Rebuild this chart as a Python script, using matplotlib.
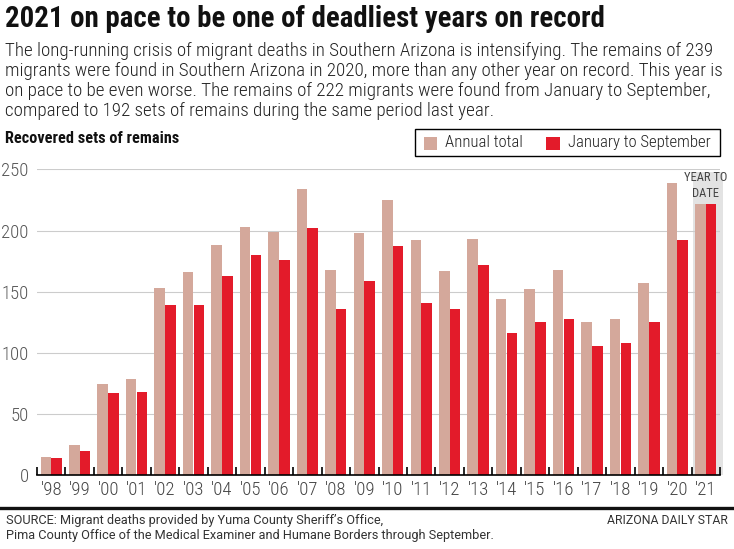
import matplotlib
matplotlib.use("Agg")
import matplotlib.pyplot as plt
import numpy as np
from matplotlib.patches import Rectangle
from matplotlib.lines import Line2D

years = ["'98", "'99", "'00", "'01", "'02", "'03", "'04", "'05", "'06", "'07", "'08", "'09",
         "'10", "'11", "'12", "'13", "'14", "'15", "'16", "'17", "'18", "'19", "'20", "'21"]
annual_total = [15, 25, 75, 79, 153, 166, 188, 203, 199, 234, 168, 198,
                225, 192, 167, 193, 144, 152, 168, 125, 128, 157, 239, 222]
jan_to_sep = [14, 20, 67, 68, 139, 139, 163, 180, 176, 202, 136, 159,
              187, 141, 136, 172, 116, 125, 128, 106, 108, 125, 192, 222]
y_ticks = [0, 50, 100, 150, 200, 250]

COND = ['Roboto Condensed', 'DejaVu Sans']
REG = ['Roboto', 'DejaVu Sans']
C_ANNUAL = '#d4a89b'
C_JAN = '#e31b2a'

W, H = 734, 549
fig = plt.figure(figsize=(W / 100, H / 100), dpi=100)

def fx(px):
    return px / W

def fy(py):
    return 1 - py / H

ax_left, ax_right, ax_top, ax_bottom = 37, 720, 169.3, 475.3
ax = fig.add_axes([fx(ax_left), fy(ax_bottom), fx(ax_right - ax_left), (ax_bottom - ax_top) / H])

x = np.arange(len(years))
off, bw = 0.19, 0.37
# year-to-date shading
ax.add_patch(Rectangle((22.55, 0), 1.05, 248, facecolor='#e3e3e3', edgecolor='none',
                       zorder=0.5, clip_on=False))
ax.bar(x - off, annual_total, width=bw, color=C_ANNUAL, zorder=2)
ax.bar(x + off, jan_to_sep, width=bw, color=C_JAN, zorder=2)

ax.set_xlim(-0.5, len(years) - 0.5)
ax.set_ylim(0, 250)
ax.set_yticks(y_ticks)
ax.set_yticklabels([str(v) for v in y_ticks], family=COND, fontweight='light', fontsize=13.5, color='#555555')
ax.yaxis.grid(True, color='#cccccc', linewidth=0.8, zorder=0)
ax.set_axisbelow(True)
ax.tick_params(axis='y', length=0, pad=6)

ax.set_xticks(np.arange(len(years) + 1) - 0.5)
ax.set_xticklabels([])
ax.set_xticks(x, minor=True)
ax.set_xticklabels(years, minor=True, family=COND, fontweight='light', fontsize=13.5, color='#444444')
ax.tick_params(axis='x', which='major', direction='in', length=6, width=1.2, color='black')
ax.tick_params(axis='x', which='minor', length=0, pad=4)

for s in ['top', 'right', 'left']:
    ax.spines[s].set_visible(False)
ax.spines['bottom'].set_linewidth(1.2)
ax.spines['bottom'].set_zorder(3)

ax.text(23.0, 237, 'YEAR TO\nDATE', ha='center', va='center', family=COND,
        fontsize=9, color='#444444', linespacing=1.3, zorder=3)

# titles
fig.text(fx(5), fy(19), '2021 on pace to be one of deadliest years on record', ha='left', va='center',
         family=COND, fontweight='bold', fontsize=20.8, color='#111111')
subtitle = ("The long-running crisis of migrant deaths in Southern Arizona is intensifying. The remains of 239\n"
            "migrants were found in Southern Arizona in 2020, more than any other year on record. This year is\n"
            "on pace to be even worse. The remains of 222 migrants were found from January to September,\n"
            "compared to 192 sets of remains during the same period last year.")
fig.text(fx(5), fy(41.5), subtitle, ha='left', va='top', family=COND, fontweight='light', fontsize=13.7,
         color='#222222', linespacing=1.15)
fig.text(fx(5), fy(138), 'Recovered sets of remains', ha='left', va='center', family=COND,
         fontweight='bold', fontsize=11.7, color='#111111')

# legend box
fig.add_artist(Rectangle((fx(415), fy(156)), fx(305), (156 - 129) / H, transform=fig.transFigure,
                         facecolor='white', edgecolor='black', linewidth=1))
fig.add_artist(Rectangle((fx(424), fy(149.5)), fx(13), 13 / H, transform=fig.transFigure,
                         facecolor=C_ANNUAL, edgecolor='none'))
fig.add_artist(Rectangle((fx(546), fy(149.5)), fx(14), 13 / H, transform=fig.transFigure,
                         facecolor=C_JAN, edgecolor='none'))
fig.text(fx(445), fy(143), 'Annual total', ha='left', va='center', family=COND, fontweight='light',
         fontsize=12.1, color='#222222')
fig.text(fx(568), fy(143), 'January to September', ha='left', va='center', family=COND, fontweight='light',
         fontsize=12.1, color='#222222')

# bottom rule and source
fig.add_artist(Line2D([0, 1], [fy(507.5), fy(507.5)], transform=fig.transFigure, color='#111111', linewidth=2.4))
fig.text(fx(6), fy(514), "SOURCE: Migrant deaths provided by Yuma County Sheriff\u2019s Office,\n"
         "Pima County Office of the Medical Examiner and Humane Borders through September.",
         ha='left', va='top', family=REG, fontsize=9.2, color='#333333', linespacing=1.15)
fig.text(fx(728), fy(521), 'ARIZONA DAILY STAR', ha='right', va='center', family=REG,
         fontsize=8.8, color='#333333')

fig.savefig('out.png', dpi=100)
